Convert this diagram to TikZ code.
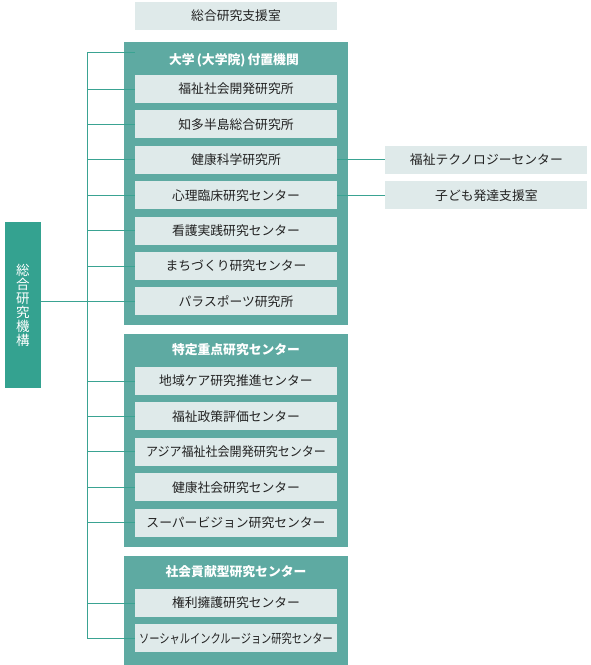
\documentclass[tikz,border=0pt]{standalone}
\usepackage{fontspec}
\setmainfont{Noto Sans CJK JP}
\usepackage{xcolor}
\definecolor{cbox}{RGB}{223,234,234}
\definecolor{cgroup}{RGB}{94,170,162}
\definecolor{corg}{RGB}{52,162,144}
\definecolor{cline}{RGB}{58,163,146}
\definecolor{ctext}{RGB}{34,34,34}
\usepackage{tikz}
\usetikzlibrary{positioning}
\tikzset{
node distance=7pt,
Unit/.style={
	fill=cbox,
	minimum width=202pt,
	minimum height=28pt,
	inner sep=0pt,
	text=ctext,
	font=\fontsize{12.8}{14}\selectfont
},
Group/.style={
	fill=cgroup,
	minimum width=224pt,
	inner sep=0pt,
	anchor=north west
},
Title/.style={
	text=white,
	font=\bfseries\fontsize{12.8}{14}\selectfont
},
Org/.style={
	fill=corg,
	minimum width=36pt,
	minimum height=166pt,
	text=white,
	align=center,
	font=\fontsize{13.5}{14}\selectfont
},
Edge/.style={
	draw=cline,
	line width=0.8pt
}
}

\begin{document}
\begin{tikzpicture}[x=1pt, y=-1pt]
	\useasboundingbox (0,0) rectangle (590,665);
	\node[Unit] (S) at (236,16) {総合研究支援室};

	\node[Group, minimum height=283pt] (G1) at (124,42) {};
	\node[Group, minimum height=213pt] (G2) at (124,334) {};
	\node[Group, minimum height=109pt] (G3) at (124,556) {};

	\node[Title] (T1) at (234,60) {大学\,(大学院)\,付置機関};
	\node[Unit] (A1) at (236,89) {福祉社会開発研究所};
	\node[Unit, below=of A1] (A2) {知多半島総合研究所};
	\node[Unit, below=of A2] (A3) {健康科学研究所};
	\node[Unit, below=of A3] (A4) {心理臨床研究センター};
	\node[Unit, below=of A4] (A5) {看護実践研究センター};
	\node[Unit, below=of A5] (A6) {まちづくり研究センター};
	\node[Unit, below=of A6] (A7) {パラスポーツ研究所};

	\node[Title] (T2) at (236,350) {特定重点研究センター};
	\node[Unit] (B1) at (236,381) {地域ケア研究推進センター};
	\node[Unit, below=of B1] (B2) {福祉政策評価センター};
	\node[Unit, below=of B2] (B3) {\scalebox{0.94}[1]{アジア福祉社会開発研究センター}};
	\node[Unit, below=of B3] (B4) {健康社会研究センター};
	\node[Unit, below=of B4] (B5) {スーパービジョン研究センター};

	\node[Title] (T3) at (236,572) {社会貢献型研究センター};
	\node[Unit] (C1) at (236,603) {権利擁護研究センター};
	\node[Unit, below=of C1] (C2) {\scalebox{0.8}[1]{ソーシャルインクルージョン研究センター}};

	\node[Unit, right=48pt of A3] (Tech) {福祉テクノロジーセンター};
	\node[Unit, right=48pt of A4] (Kids) {子ども発達支援室};

	\node[Org] (O) at (23,305) {総\\合\\研\\究\\機\\構};

	\coordinate (top) at (87,52);
	\draw[Edge] (top) -- (top -| A1.west);
	\draw[Edge] (top) -- (C2.west -| top);
	\foreach \u in {A1,A2,A3,A4,A5,A6,A7,B1,B2,B3,B4,B5,C1,C2}
		\draw[Edge] (\u.west) -- (\u.west -| top);
	\draw[Edge] (O.east |- A7.west) -- (A7.west -| top);
	\draw[Edge] (A3) -- (Tech);
	\draw[Edge] (A4) -- (Kids);
\end{tikzpicture}
\end{document}
